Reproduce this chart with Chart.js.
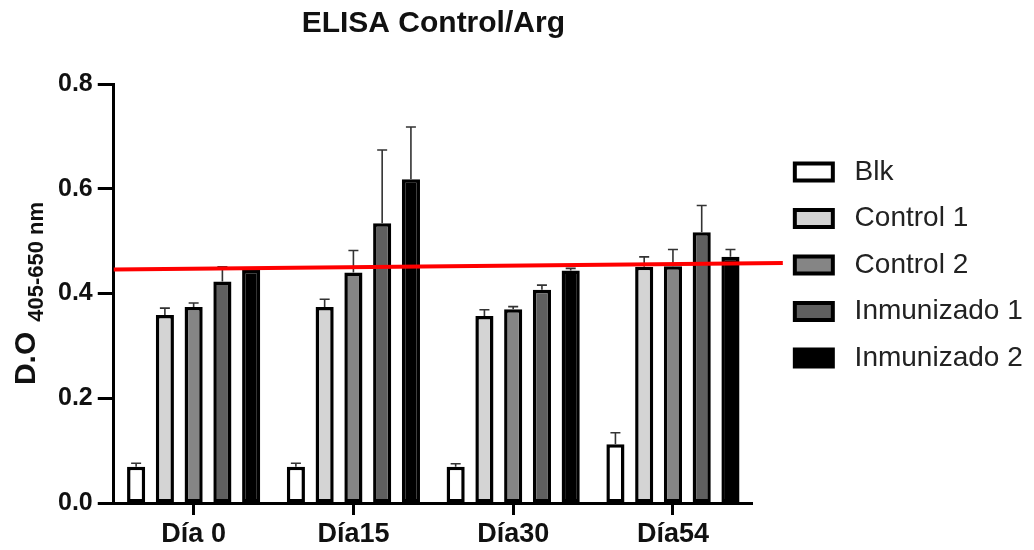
<!DOCTYPE html>
<html>
<head>
<meta charset="utf-8">
<title>ELISA Control/Arg</title>
<script src="https://cdn.jsdelivr.net/npm/chart.js@4.4.1/dist/chart.umd.min.js"></script>
<style>
  html, body { margin: 0; padding: 0; background: #fff; }
  #wrap { width: 1034px; height: 550px; }
</style>
</head>
<body>
<div id="wrap"><canvas id="elisaChart" width="1034" height="550"></canvas></div>
<script>
// --- Data ---
const days = ['Día 0', 'Día15', 'Día30', 'Día54'];
const seriesNames = ['Blk', 'Control 1', 'Control 2', 'Inmunizado 1', 'Inmunizado 2'];

const blk = [0.069, 0.069, 0.069, 0.112];
const control1 = [0.359, 0.374, 0.357, 0.451];
const control2 = [0.374, 0.440, 0.370, 0.452];
const inmunizado1 = [0.423, 0.534, 0.407, 0.517];
const inmunizado2 = [0.445, 0.618, 0.444, 0.470];

// upper error (SD) for each series
const blkErr = [0.007, 0.007, 0.006, 0.022];
const control1Err = [0.013, 0.015, 0.012, 0.019];
const control2Err = [0.008, 0.042, 0.005, 0.032];
const inmunizado1Err = [0.028, 0.140, 0.009, 0.051];
const inmunizado2Err = [0.004, 0.100, 0.004, 0.014];

const yTicks = [0.0, 0.2, 0.4, 0.6, 0.8];
// red cut-off line, value at left and right end
const cutoffLine = [0.446, 0.458];

const FONT = 'Arial, "Liberation Sans", Helvetica, sans-serif';
const fills = ['#ffffff', '#d4d4d4', '#858585', '#5f5f5f', '#000000'];
const values = [blk, control1, control2, inmunizado1, inmunizado2];
const errors = [blkErr, control1Err, control2Err, inmunizado1Err, inmunizado2Err];

// draws the upper error bars over each bar
const errorBarsPlugin = {
    id: 'errorBars',
    afterDatasetsDraw(chart) {
        const ctx = chart.ctx;
        const y = chart.scales.y;
        ctx.save();
        ctx.strokeStyle = '#333';
        ctx.lineWidth = 1.6;
        chart.data.datasets.forEach((ds, i) => {
            const meta = chart.getDatasetMeta(i);
            meta.data.forEach((bar, j) => {
                const top = y.getPixelForValue(ds.data[j] + ds.errors[j]);
                ctx.beginPath();
                ctx.moveTo(bar.x, bar.y);
                ctx.lineTo(bar.x, top);
                ctx.moveTo(bar.x - 5, top);
                ctx.lineTo(bar.x + 5, top);
                ctx.stroke();
            });
        });
        ctx.restore();
    }
};

// red threshold line, runs a bit past the x axis
const cutoffPlugin = {
    id: 'cutoff',
    afterDatasetsDraw(chart) {
        const ctx = chart.ctx;
        const area = chart.chartArea;
        const y = chart.scales.y;
        ctx.save();
        ctx.strokeStyle = '#ff0000';
        ctx.lineWidth = 4;
        ctx.beginPath();
        ctx.moveTo(area.left, y.getPixelForValue(cutoffLine[0]));
        ctx.lineTo(area.right + 30, y.getPixelForValue(cutoffLine[1]));
        ctx.stroke();
        ctx.restore();
    }
};

// y axis title with subscript: D.O 405-650 nm
const yTitlePlugin = {
    id: 'yTitle',
    afterDraw(chart) {
        const ctx = chart.ctx;
        const area = chart.chartArea;
        ctx.save();
        ctx.fillStyle = '#111';
        ctx.textBaseline = 'alphabetic';
        ctx.font = 'bold 30px ' + FONT;
        const wMain = ctx.measureText('D.O').width;
        ctx.font = 'bold 22px ' + FONT;
        const wSub = ctx.measureText('405-650 nm').width;
        const gap = 10;
        const total = wMain + gap + wSub;
        const startY = (area.top + area.bottom) / 2 + total / 2;
        ctx.translate(35, startY);
        ctx.rotate(-Math.PI / 2);
        ctx.font = 'bold 30px ' + FONT;
        ctx.fillText('D.O', 0, 0);
        ctx.font = 'bold 22px ' + FONT;
        ctx.fillText('405-650 nm', wMain + gap, 8);
        ctx.restore();
    }
};

// legend box gets squeezed by the layout; let it run to the canvas edge so text isn't clipped
const legendWidthPlugin = {
    id: 'legendWidth',
    afterLayout(chart) {
        const lg = chart.legend;
        if (!lg) return;
        lg.right = chart.width;
        lg.width = lg.right - lg.left;
    }
};

window.addEventListener('DOMContentLoaded', () => {
    const ctx = document.getElementById('elisaChart').getContext('2d');

    const datasets = seriesNames.map((name, i) => ({
        label: name,
        data: values[i],
        errors: errors[i],
        backgroundColor: fills[i],
        borderColor: '#000',
        borderWidth: 3.5,
        borderSkipped: false,
        categoryPercentage: 0.9,
        barPercentage: 0.63
    }));

    new Chart(ctx, {
        type: 'bar',
        data: { labels: days, datasets },
        plugins: [errorBarsPlugin, cutoffPlugin, yTitlePlugin, legendWidthPlugin],
        options: {
            responsive: false,
            animation: false,
            // right padding + spacer axis put the plot edge at ~753 and legend at ~776
            layout: { padding: { left: 53, right: 113, top: 0, bottom: 0 } },
            scales: {
                x: {
                    grid: { display: true, offset: false, drawOnChartArea: false, drawTicks: true, tickLength: 12, tickWidth: 3, tickColor: '#000' },
                    border: { display: true, width: 3, color: '#000' },
                    ticks: { color: '#111', padding: 6, font: { family: FONT, size: 27, weight: 'bold', lineHeight: 1 } },
                    afterFit(axis) { axis.height = 47; }
                },
                y: {
                    min: 0,
                    max: 0.8,
                    afterBuildTicks(axis) { axis.ticks = yTicks.map(v => ({ value: v })); },
                    grid: { display: true, drawOnChartArea: false, drawTicks: true, tickLength: 16, tickWidth: 3, tickColor: '#000' },
                    border: { display: true, width: 3, color: '#000' },
                    ticks: {
                        color: '#111',
                        padding: 5,
                        font: { family: FONT, size: 25, weight: 'bold' },
                        callback: v => Number(v).toFixed(1)
                    }
                },
                // empty spacer between plot and legend
                gap: {
                    type: 'linear',
                    position: 'right',
                    display: true,
                    grid: { display: false },
                    border: { display: false },
                    ticks: { display: false },
                    afterFit(axis) { axis.width = 23.5; }
                }
            },
            plugins: {
                title: {
                    display: true,
                    text: 'ELISA Control/Arg',
                    fullSize: false,
                    color: '#111',
                    font: { family: FONT, size: 30, weight: 'bold' },
                    padding: { top: 6, bottom: 42 }
                },
                legend: {
                    position: 'right',
                    align: 'start',
                    title: { display: true, text: ' ', font: { size: 12 }, padding: { top: 125, bottom: 0 } },
                    labels: {
                        boxWidth: 38,
                        boxHeight: 17,
                        padding: 18.5,
                        color: '#222',
                        font: { family: FONT, size: 28 },
                        generateLabels(chart) {
                            const items = Chart.defaults.plugins.legend.labels.generateLabels(chart);
                            items.forEach(it => { it.text = ' ' + it.text; it.lineWidth = 4; });
                            return items;
                        }
                    }
                },
                tooltip: { enabled: false }
            }
        }
    });
});
</script>
</body>
</html>
